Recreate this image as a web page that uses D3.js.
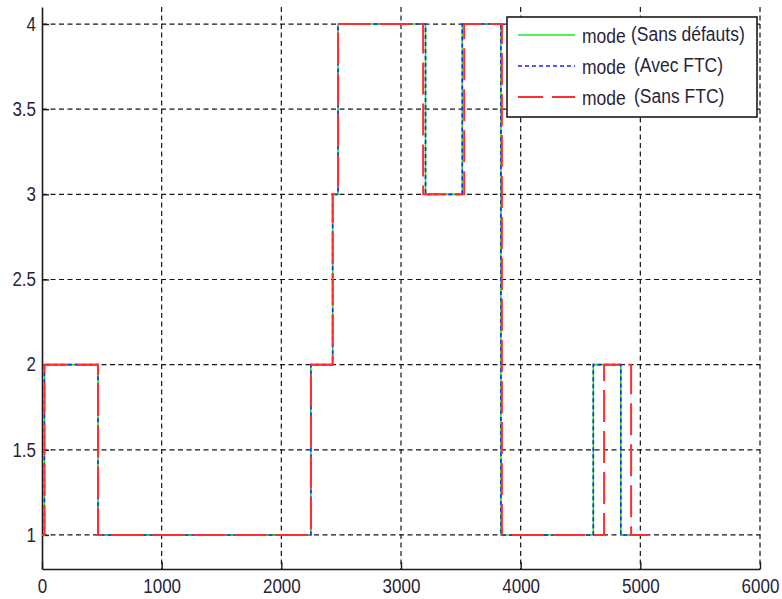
<!DOCTYPE html>
<html>
<head>
<meta charset="utf-8">
<script src="https://cdn.jsdelivr.net/npm/d3@7"></script>
<style>
  html, body { margin: 0; padding: 0; background: #fff; }
  svg { display: block; }
  text { font-family: "Liberation Sans", Arial, sans-serif; }
  text.stretch { transform-box: fill-box; transform-origin: center; transform: scaleY(1.14); }
</style>
</head>
<body>
<svg id="chart" width="782" height="599"></svg>
<script>
// ---- data ----
const xTicks = [0, 1000, 2000, 3000, 4000, 5000, 6000];
const yTicks = [1, 1.5, 2, 2.5, 3, 3.5, 4];
const yTickLabels = ["1", "1.5", "2", "2.5", "3", "3.5", "4"];

// step change instants (time) and mode held from that instant
const timeSansDefauts = [0, 20, 468, 2247, 2429, 2474, 3205, 3512, 3835, 4607, 4837, 5070];
const modeSansDefauts = [1, 2, 1, 2, 3, 4, 3, 4, 1, 2, 1, 1];

const timeAvecFTC = [0, 20, 468, 2247, 2429, 2474, 3205, 3512, 3835, 4607, 4837, 5070];
const modeAvecFTC = [1, 2, 1, 2, 3, 4, 3, 4, 1, 2, 1, 1];

const timeSansFTC = [0, 20, 468, 2247, 2429, 2474, 3185, 3528, 3843, 4697, 4923, 5070];
const modeSansFTC = [1, 2, 1, 2, 3, 4, 3, 4, 1, 2, 1, 1];

const seriesNames = ["mode", "mode", "mode"];
const seriesSub = ["(Sans défauts)", "(Avec FTC)", "(Sans FTC)"];

// ---- layout ----
const svg = d3.select("#chart");
const plotLeft = 42, plotRight = 760, plotTop = 7, plotBottom = 569;

const x = d3.scaleLinear().domain([0, 6000]).range([plotLeft, plotRight]);
const y = d3.scaleLinear().domain([0.8, 4.1]).range([plotBottom, plotTop]);

// grid
const grid = svg.append("g").attr("stroke", "#151515").attr("stroke-width", 1.2)
  .attr("stroke-dasharray", "5,3.5").attr("fill", "none");
grid.selectAll("line.v").data(xTicks.filter(d => d > 0)).enter().append("line")
  .attr("x1", d => x(d)).attr("x2", d => x(d)).attr("y1", plotTop).attr("y2", plotBottom);
grid.selectAll("line.h").data(yTicks).enter().append("line")
  .attr("x1", plotLeft).attr("x2", plotRight).attr("y1", d => y(d)).attr("y2", d => y(d));

// axes
const xAxis = d3.axisBottom(x).tickValues(xTicks).tickFormat(d3.format("d"))
  .tickSizeInner(-7).tickSizeOuter(0).tickPadding(11);
const yAxis = d3.axisLeft(y).tickValues(yTicks).tickFormat((d, i) => yTickLabels[i])
  .tickSizeInner(-7).tickSizeOuter(0).tickPadding(6);

const gx = svg.append("g").attr("transform", `translate(0,${plotBottom})`).call(xAxis);
const gy = svg.append("g").attr("transform", `translate(${plotLeft},0)`).call(yAxis);
[gx, gy].forEach(g => {
  g.select(".domain").attr("stroke", "#1a1a1a").attr("stroke-width", 1.6);
  g.selectAll(".tick line").attr("stroke", "#1a1a1a").attr("stroke-width", 1.4);
  g.selectAll(".tick text").attr("fill", "#2a1f3a").attr("font-size", 17)
    .attr("class", "stretch")
    .attr("font-family", "'Liberation Sans', Arial, sans-serif");
});

// step lines
const line = d3.line().x(d => x(d[0])).y(d => y(d[1])).curve(d3.curveStepAfter);
const zip = (t, m) => t.map((v, i) => [v, m[i]]);

svg.append("path").datum(zip(timeSansDefauts, modeSansDefauts))
  .attr("d", line).attr("fill", "none").attr("stroke", "#1ee81e").attr("stroke-width", 1.6);
svg.append("path").datum(zip(timeAvecFTC, modeAvecFTC))
  .attr("d", line).attr("fill", "none").attr("stroke", "#2020ff").attr("stroke-width", 1.6)
  .attr("stroke-dasharray", "4,3");
svg.append("path").datum(zip(timeSansFTC, modeSansFTC))
  .attr("d", line).attr("fill", "none").attr("stroke", "#ff2e2e").attr("stroke-width", 2)
  .attr("stroke-dasharray", "32,9");

// legend
const lg = svg.append("g");
lg.append("rect").attr("x", 507).attr("y", 17).attr("width", 250).attr("height", 100)
  .attr("fill", "#fff").attr("stroke", "#1a1a1a").attr("stroke-width", 1.6);
const legendStyles = [
  { color: "#1ee81e", dash: null, width: 1.6 },
  { color: "#2020ff", dash: "4,3", width: 1.6 },
  { color: "#ff2e2e", dash: "25,9", width: 2 }
];
const rowY = [35, 66, 97];
const subX = [631, 634, 634];
legendStyles.forEach((s, i) => {
  const l = lg.append("line").attr("x1", 518).attr("x2", 575)
    .attr("y1", rowY[i]).attr("y2", rowY[i])
    .attr("stroke", s.color).attr("stroke-width", s.width);
  if (s.dash) l.attr("stroke-dasharray", s.dash);
  lg.append("text").attr("class", "stretch").attr("x", 582).attr("y", rowY[i] + 7)
    .attr("font-size", 17.5).attr("fill", "#2a1f3a").text(seriesNames[i]);
  lg.append("text").attr("class", "stretch").attr("x", subX[i]).attr("y", rowY[i] + 5)
    .attr("font-size", 17.5).attr("fill", "#2a1f3a").text(seriesSub[i]);
});
</script>
</body>
</html>
